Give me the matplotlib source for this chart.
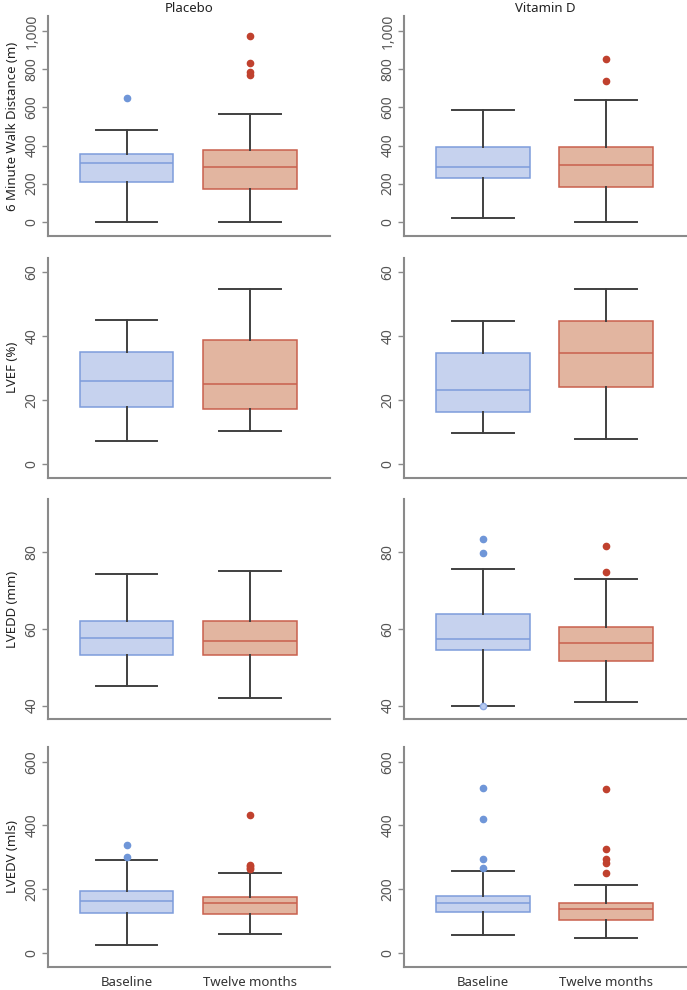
import matplotlib
matplotlib.use('Agg')
import matplotlib.pyplot as plt
from matplotlib.ticker import FuncFormatter

plt.rcParams['font.family'] = ['Noto Sans', 'DejaVu Sans']

groups = ['Placebo', 'Vitamin D']
timepoints = ['Baseline', 'Twelve months']
measures = ['6 Minute Walk Distance (m)', 'LVEF (%)', 'LVEDD (mm)', 'LVEDV (mls)']

# box stats per measure, per group, per timepoint: (whislo, q1, med, q3, whishi)
walk_stats = [
    [(0, 211, 309, 358, 483), (0, 171, 286, 379, 567)],
    [(17, 229, 286, 391, 588), (0, 182, 300, 394, 640)],
]
walk_fliers = [
    [[649], [974, 831, 784, 770]],
    [[], [857, 738]],
]

lvef_stats = [
    [(7.1, 17.9, 26.0, 35.1, 45.1), (10.1, 17.1, 24.9, 38.8, 54.8)],
    [(9.7, 16.2, 23.2, 34.6, 44.8), (7.7, 23.9, 34.6, 44.8, 54.8)],
]
lvef_fliers = [
    [[], []],
    [[], []],
]

lvedd_stats = [
    [(45.1, 53.2, 57.5, 62.0, 74.1), (42.1, 53.2, 56.9, 62.0, 75.1)],
    [(40.0, 54.5, 57.3, 63.9, 75.5), (41.0, 51.6, 56.2, 60.4, 72.8)],
]
lvedd_fliers = [
    [[], []],
    [[83.4, 79.6], [81.4, 74.8]],
]
lvedd_low_point = [[[], []], [[40.0], []]]

lvedv_stats = [
    [(24, 124, 164, 194, 290), (58, 121, 155, 176, 251)],
    [(56, 127, 155, 179, 258), (47, 102, 137, 157, 213)],
]
lvedv_fliers = [
    [[337, 300], [433, 276, 271, 267, 263]],
    [[519, 419, 293, 267], [514, 325, 294, 283, 249]],
]

all_stats = [walk_stats, lvef_stats, lvedd_stats, lvedv_stats]
all_fliers = [walk_fliers, lvef_fliers, lvedd_fliers, lvedv_fliers]
ylims = [(-75, 1080), (-4.4, 64.6), (36.5, 93.7), (-44, 647)]
yticks = [[0, 200, 400, 600, 800, 1000], [0, 20, 40, 60], [40, 60, 80], [0, 200, 400, 600]]

fills = ['#c6d2ee', '#e2b5a0']
edges = ['#7d9cdb', '#c9604d']
flier_colors = ['#6f96d8', '#c0412e']
whisker_color = '#404040'
spine_color = '#8a8a8a'

fig = plt.figure(figsize=(6.87, 9.9), dpi=100)

col_left = [0.0694, 0.588]
col_width = 0.411
row_bottom = [0.7616, 0.5175, 0.2737, 0.0235]
row_height = 0.2222

for r in range(4):
    for c in range(2):
        ax = fig.add_axes([col_left[c], row_bottom[r], col_width, row_height])
        for t in range(2):
            lo, q1, med, q3, hi = all_stats[r][c][t]
            stats = [{'whislo': lo, 'q1': q1, 'med': med, 'q3': q3,
                      'whishi': hi, 'fliers': all_fliers[r][c][t]}]
            ax.bxp(stats, positions=[t], widths=0.76, patch_artist=True,
                   showfliers=True,
                   boxprops=dict(facecolor=fills[t], edgecolor=edges[t], linewidth=1.1),
                   medianprops=dict(color=edges[t], linewidth=1.1),
                   whiskerprops=dict(color=whisker_color, linewidth=1.4),
                   capprops=dict(color=whisker_color, linewidth=1.4),
                   capwidths=0.5,
                   flierprops=dict(marker='o', markerfacecolor=flier_colors[t],
                                   markeredgecolor=flier_colors[t], markersize=4.5))
            if r == 2:
                pts = lvedd_low_point[c][t]
                if pts:
                    ax.plot([t] * len(pts), pts, 'o', markersize=4.5,
                            markerfacecolor='#b9cbf0', markeredgecolor='#8eaae3',
                            zorder=5)
        ax.set_xlim(-0.64, 1.65)
        ax.set_ylim(*ylims[r])
        ax.set_yticks(yticks[r])
        ax.yaxis.set_major_formatter(FuncFormatter(lambda v, p: f'{int(v):,}'))
        for s in ['top', 'right']:
            ax.spines[s].set_visible(False)
        for s in ['left', 'bottom']:
            ax.spines[s].set_color(spine_color)
            ax.spines[s].set_linewidth(1.5)
        ax.tick_params(axis='y', length=4, width=1, color=spine_color,
                       labelsize=10, labelcolor='#555555', pad=2)
        for lab in ax.get_yticklabels():
            lab.set_rotation(90)
            lab.set_va('center')
        if r == 3:
            ax.set_xticks([0, 1])
            ax.set_xticklabels(timepoints)
            ax.tick_params(axis='x', length=0, labelsize=9.5, labelcolor='#333333', pad=7)
        else:
            ax.set_xticks([])
        if c == 0:
            ax.set_ylabel(measures[r], fontsize=9.5, color='#222222', labelpad=4)
        if r == 0:
            ax.set_title(groups[c], fontsize=9.5, color='#222222', pad=3)

fig.savefig('out.png', dpi=100)
